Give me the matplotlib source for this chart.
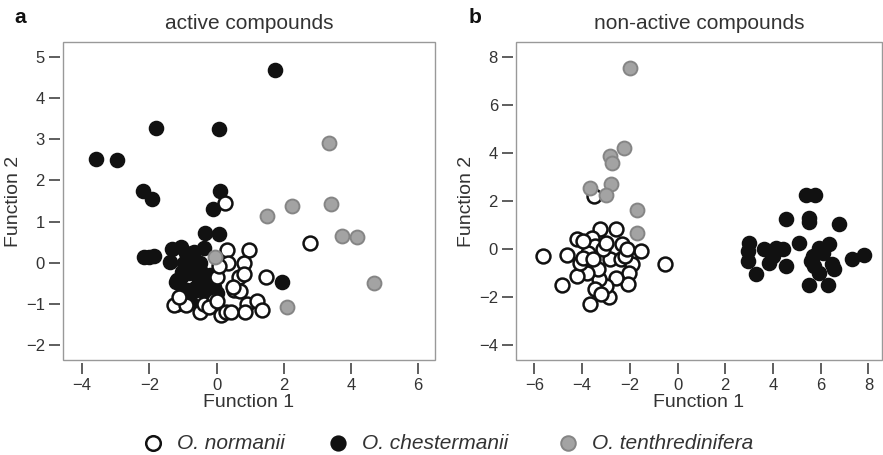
import matplotlib
matplotlib.use("Agg")
import matplotlib.pyplot as plt
from matplotlib.patches import Rectangle
from matplotlib.lines import Line2D

plt.rcParams['font.family'] = ['Liberation Sans', 'DejaVu Sans']

# panel a: active compounds
a_norm_x = [0.24, 2.78, 0.32, 0.96, 0.81, 0.35, 0.02, 0.66, 0.81, 1.46, 0.51, 0.71, 0.91, 1.21,
            1.36, 0.86, 0.12, -0.48, -0.38, -1.17, -1.27, -0.92, -0.08, -0.23, 0.27, 0.02,
            -1.12, 0.42, 0.07, 0.49]
a_norm_y = [1.46, 0.47, 0.31, 0.30, -0.01, -0.01, -0.34, -0.35, -0.27, -0.34, -0.66, -0.68, -0.99,
            -0.94, -1.15, -1.19, -1.27, -1.19, -0.99, -0.99, -1.03, -1.03, -0.90, -1.07, -1.19,
            -0.94, -0.82, -1.19, -0.09, -0.59]
a_ches_x = [1.75, -1.79, 0.07, -3.60, -2.96, -2.18, -1.92, 0.10, -0.10, -0.33, 0.07, -2.16, -2.02,
            -1.87, 1.95, -1.32, -1.07, -1.37, -0.68, -0.38, -0.97, -1.22, -0.83, -0.48, -0.28,
            -0.63, -0.08, -0.88, 0.02, -0.78, -0.38, -1.07, -0.53, -0.18, -0.73, -0.92,
            -0.79, -1.02, -0.49, -0.99, -0.58, -0.13, -0.28, -0.10, -1.17]
a_ches_y = [4.68, 3.27, 3.25, 2.52, 2.49, 1.73, 1.55, 1.75, 1.31, 0.72, 0.69, 0.15, 0.15, 0.16,
            -0.46, 0.33, 0.39, 0.03, 0.27, 0.35, -0.01, -0.46, -0.26, -0.17, -0.42, -0.62, -0.58,
            -0.66, -0.74, -0.94, -0.66, -0.34, -0.42, -0.30, 0.07, 0.23,
            -0.18, -0.23, -0.01, -0.67, -0.67, -0.67, -0.84, -0.55, -0.43]
a_tent_x = [-0.06, 3.34, 1.51, 2.25, 3.42, 3.74, 4.18, 4.68, 2.10]
a_tent_y = [0.13, 2.91, 1.14, 1.37, 1.43, 0.64, 0.62, -0.50, -1.08]

# panel b: non-active compounds
b_norm_x = [-3.51, -5.62, -4.65, -4.86, -3.67, -2.87, -0.54, -1.54, -3.26, -2.59, -2.31, -4.23,
            -3.60, -3.46, -2.84, -2.38, -1.93, -2.03, -2.07, -2.59, -2.98, -3.28, -3.33, -3.81,
            -4.23, -4.09, -3.74, -3.12, -3.95, -3.53, -3.46, -3.19, -2.21, -2.98, -3.95, -2.14]
b_norm_y = [2.20, -0.30, -0.27, -1.52, -2.31, -2.00, -0.64, -0.09, 0.84, 0.81, 0.19, 0.40, 0.47,
            0.12, -0.44, -0.41, -0.64, -0.99, -1.48, -1.20, -1.55, -1.27, -0.85, -0.99, -1.13,
            -0.57, -0.16, -0.02, -0.37, -0.44, -1.68, -1.89, -0.30, 0.26, 0.33, -0.01]
b_ches_x = [5.38, 5.77, 5.52, 5.49, 4.54, 6.77, 5.10, 3.01, 2.94, 2.94, 3.29, 3.64, 3.85, 4.13,
            4.41, 4.54, 5.52, 6.29, 6.36, 5.94, 5.66, 5.73, 5.94, 6.49, 6.56, 7.33, 7.82, 6.08,
            5.59, 3.99]
b_ches_y = [2.23, 2.23, 1.30, 1.12, 1.23, 1.02, 0.26, 0.26, -0.09, -0.50, -1.06, -0.02, -0.57,
            0.05, -0.02, -0.71, -1.52, -1.52, 0.19, 0.05, -0.30, -0.71, -0.99, -0.64, -0.85,
            -0.44, -0.27, -0.16, -0.50, -0.30]
b_tent_x = [-2.00, -2.25, -2.84, -2.74, -2.77, -3.02, -3.67, -1.70, -1.70]
b_tent_y = [7.54, 4.21, 3.87, 3.59, 2.69, 2.27, 2.55, 1.62, 0.67]

species = ['O. normanii', 'O. chestermanii', 'O. tenthredinifera']

TXT = '#333333'
BOX = '#999999'
S = 100

# marker styles per species: (face, edge, edge width)
styles = [('white', '#111111', 1.8), ('#111111', '#111111', 1.2), ('#a3a3a3', '#858585', 1.4)]


def draw_panel(ax, nx, ny, cx, cy, tx, ty, xlim, ylim, xticks, yticks, title, letter):
    for (x, y), (fc, ec, lw), z in zip([(cx, cy), (nx, ny), (tx, ty)],
                                       [styles[1], styles[0], styles[2]], [3, 4, 5]):
        ax.scatter(x, y, s=S, facecolor=fc, edgecolor=ec, linewidth=lw, zorder=z)
    ax.set_xlim(xlim)
    ax.set_ylim(ylim)
    ax.set_xticks(xticks)
    ax.set_yticks(yticks)
    ax.set_xticklabels([str(t).replace('-', '\u2212') for t in xticks])
    ax.set_yticklabels([str(t).replace('-', '\u2212') for t in yticks])
    for s in ax.spines.values():
        s.set_visible(False)
    ax.spines['left'].set_position(('outward', 2))
    ax.spines['bottom'].set_position(('outward', 2))
    ax.add_patch(Rectangle((0, 0), 1, 1, transform=ax.transAxes, fill=False,
                           edgecolor=BOX, linewidth=1.0, clip_on=False, zorder=1))
    ax.tick_params(direction='out', length=8, width=1.1, color='#333333',
                   labelsize=12, labelcolor=TXT, pad=3)
    ax.set_xlabel('Function 1', fontsize=14, color=TXT, labelpad=1)
    ax.set_ylabel('Function 2', fontsize=14, color=TXT, labelpad=3)
    ax.set_title(title, fontsize=15, color=TXT, pad=9)
    ax.text(-0.13, 1.06, letter, transform=ax.transAxes, fontsize=15, fontweight='bold',
            color='#111111')


fig = plt.figure(figsize=(8.83, 4.55), dpi=100)
ax1 = fig.add_axes([0.0713, 0.2088, 0.4213, 0.699])
ax2 = fig.add_axes([0.5844, 0.2088, 0.414, 0.699])

draw_panel(ax1, a_norm_x, a_norm_y, a_ches_x, a_ches_y, a_tent_x, a_tent_y,
           (-4.57, 6.5), (-2.36, 5.36), [-4, -2, 0, 2, 4, 6], [-2, -1, 0, 1, 2, 3, 4, 5],
           'active compounds', 'a')
draw_panel(ax2, b_norm_x, b_norm_y, b_ches_x, b_ches_y, b_tent_x, b_tent_y,
           (-6.77, 8.55), (-4.64, 8.64), [-6, -4, -2, 0, 2, 4, 6, 8], [-4, -2, 0, 2, 4, 6, 8],
           'non-active compounds', 'b')

# legend row along the bottom
leg_x = [153 / 883, 338 / 883, 568 / 883]
leg_y = 0.026
for lx, name, (fc, ec, lw) in zip(leg_x, species, styles):
    fig.add_artist(Line2D([lx], [leg_y], transform=fig.transFigure, marker='o', linestyle='none',
                          markersize=10.5, markerfacecolor=fc, markeredgecolor=ec,
                          markeredgewidth=lw))
    fig.text(lx + 24 / 883, leg_y, name, style='italic', fontsize=15, color=TXT,
             ha='left', va='center')

fig.savefig('out.png', dpi=100)
